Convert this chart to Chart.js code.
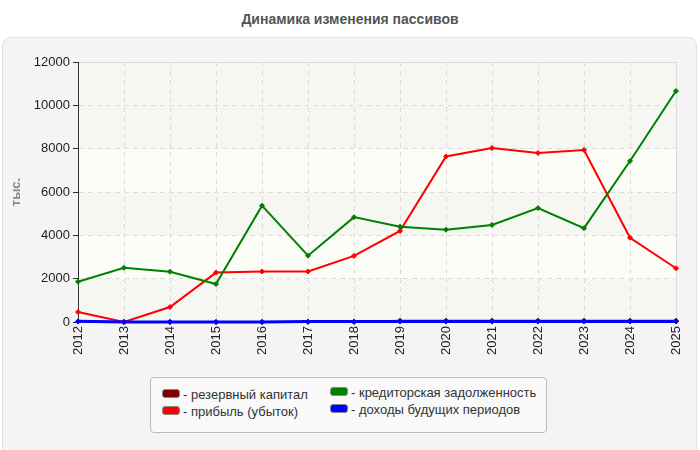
<!DOCTYPE html>
<html>
<head>
<meta charset="utf-8">
<script src="https://cdn.jsdelivr.net/npm/chart.js@4"></script>
<style>
  body { margin: 0; background: #fff; font-family: "Liberation Sans", Arial, sans-serif; }
  #wrap { position: relative; width: 700px; height: 450px; overflow: hidden; }
  #title { position: absolute; left: 0; top: 11px; width: 700px; text-align: center;
    font-weight: bold; font-size: 14px; color: #555; }
  #panel { position: absolute; left: 2px; top: 37px; width: 693px; height: 430px;
    background: #f4f4f4; border: 1px solid #e2e2e2; border-radius: 8px; }
  #chart { position: absolute; left: 0; top: 0; }
  #legend { position: absolute; left: 150px; top: 377px; width: 395px; height: 54px;
    border: 1px solid #bbb; border-radius: 4px; background: #f9f9f9; }
  .item { position: absolute; font-size: 13px; color: #333; white-space: nowrap; }
  .sw { display: inline-block; width: 16px; height: 7px; border-radius: 3px;
    margin-right: 3px; vertical-align: 1px; }
</style>
</head>
<body>
<div id="wrap">
  <div id="title">Динамика изменения пассивов</div>
  <div id="panel"></div>
  <canvas id="chart" width="700" height="450"></canvas>
  <div id="legend"></div>
</div>
<script>
const years = ["2012", "2013", "2014", "2015", "2016", "2017", "2018",
  "2019", "2020", "2021", "2022", "2023", "2024", "2025"];
const reserveCapital = [20, 0, 0, 0, 0, 0, 0, 60, 60, 60, 60, 60, 60, 60];
const profit = [460, 0, 690, 2280, 2330, 2330, 3050, 4200, 7640, 8030, 7800, 7940, 3890, 2480];
const payables = [1860, 2500, 2320, 1750, 5370, 3060, 4840, 4400, 4260, 4480, 5260, 4330, 7430, 10660];
const deferredIncome = [30, 0, 0, 0, 0, 20, 20, 20, 20, 20, 20, 20, 20, 20];
const seriesNames = ["резервный капитал", "прибыль (убыток)",
  "кредиторская задолженность", "доходы будущих периодов"];
const seriesColors = ["#800000", "#ff0000", "#008000", "#0000ff"];

//background of the plot area: ivory with hatched bands
const plotBg = {
  id: "plotBg",
  beforeDraw(chart) {
    const { ctx, chartArea: a, scales } = chart;
    ctx.save();
    ctx.fillStyle = "#fdfdf7";
    ctx.fillRect(a.left, a.top, a.right - a.left, a.bottom - a.top);
    const y = scales.y;
    for (let v = 0; v < 12000; v += 2000) {
      if ((v / 2000) % 2 == 1 && v < 8000) continue;
      const top = y.getPixelForValue(v + 2000), bot = y.getPixelForValue(v);
      ctx.save();
      ctx.beginPath();
      ctx.rect(a.left, top, a.right - a.left, bot - top);
      ctx.clip();
      ctx.fillStyle = "#f9f9f6";
      ctx.fillRect(a.left, top, a.right - a.left, bot - top);
      ctx.strokeStyle = "rgba(0,0,0,0.05)";
      ctx.lineWidth = 1;
      ctx.beginPath();
      for (let x = a.left - 60; x < a.right + 60; x += 4) {
        ctx.moveTo(x, bot);
        ctx.lineTo(x + (bot - top), top);
      }
      ctx.stroke();
      ctx.restore();
    }
    ctx.strokeStyle = "#ddd";
    ctx.lineWidth = 1;
    ctx.strokeRect(a.left + 0.5, a.top + 0.5, a.right - a.left, a.bottom - a.top);
    ctx.restore();
  },
};

const datasets = [reserveCapital, profit, payables, deferredIncome].map((d, i) => ({
  label: seriesNames[i],
  data: d,
  borderColor: seriesColors[i],
  backgroundColor: seriesColors[i],
  borderWidth: i == 3 ? 3 : 2,
  pointStyle: "rectRot",
  pointRadius: 2.5,
  pointBorderWidth: 1,
  tension: 0,
  clip: false,
  order: i == 0 ? 5 : 4 - i,
}));

const chart = new Chart(document.getElementById("chart"), {
  type: "line",
  data: { labels: years, datasets },
  plugins: [plotBg],
  options: {
    responsive: false,
    animation: false,
    layout: { padding: { left: 0, right: 24, top: 62, bottom: 88 } },
    plugins: { legend: { display: false }, tooltip: { enabled: false } },
    scales: {
      x: {
        offset: false,
        afterFit: (s) => { s.height = 40; },
        border: { display: false, dash: [5, 4] },
        grid: { color: "#dcdcdc", drawTicks: false },
        ticks: { color: "#222", font: { size: 13, family: "Liberation Sans" },
          minRotation: 90, maxRotation: 90, padding: 4 },
      },
      y: {
        min: 0, max: 12000,
        afterFit: (s) => { s.width = 78; },
        border: { display: true, color: "#333", width: 1, dash: [5, 4] },
        grid: { color: "#dcdcdc", tickColor: "#333",
          tickBorderDash: [], tickLength: 5, drawOnChartArea: true },
        ticks: { stepSize: 2000, color: "#222", font: { size: 13, family: "Liberation Sans" },
          padding: 3, callback: (v) => String(v) },
        title: { display: true, text: "тыс.", color: "#888",
          font: { size: 13, weight: "bold", family: "Liberation Sans" }, padding: { top: 9, bottom: 0 } },
      },
    },
  },
});

//legend in two columns
const legend = document.getElementById("legend");
const pos = [[11, 9], [11, 26], [179, 7], [179, 24]];
seriesNames.forEach((name, i) => {
  const el = document.createElement("div");
  el.className = "item";
  el.style.left = pos[i][0] + "px";
  el.style.top = pos[i][1] + "px";
  el.innerHTML = `<span class="sw" style="background:${seriesColors[i]};border:1px solid #888"></span>- ${name}`;
  legend.appendChild(el);
});
</script>
</body>
</html>
